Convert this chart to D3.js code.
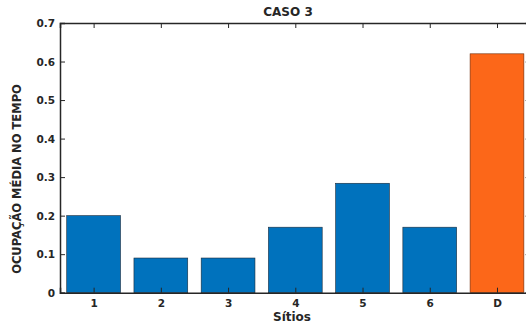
<!DOCTYPE html>
<html>
<head>
<meta charset="utf-8">
<script src="https://cdn.jsdelivr.net/npm/d3@7"></script>
<style>
  html, body { margin: 0; padding: 0; background: #fff; }
  svg { display: block; }
  text { font-family: "DejaVu Sans", sans-serif; font-weight: bold; fill: #262626; }
</style>
</head>
<body>
<svg id="chart" width="526" height="327"></svg>
<script>
// Mean occupancy per site
const sites = ["1", "2", "3", "4", "5", "6", "D"];
const occupancy = [0.2, 0.09, 0.09, 0.17, 0.284, 0.17, 0.62];
const barColors = ["#0072BD", "#0072BD", "#0072BD", "#0072BD", "#0072BD", "#0072BD", "#FC6719"];
const yTicks = [0, 0.1, 0.2, 0.3, 0.4, 0.5, 0.6, 0.7];

const svg = d3.select("#chart");
const plotL = 60, plotT = 23, plotB = 292.7, plotR = 530.6;

const x = d3.scaleLinear().domain([0.5, sites.length + 0.5]).range([plotL, plotR]);
const y = d3.scaleLinear().domain([0, 0.7]).range([plotB, plotT]);
const barW = (x(1) - x(0)) * 0.8;

// bars
svg.append("g").selectAll("rect")
  .data(occupancy)
  .join("rect")
  .attr("x", (d, i) => x(i + 1) - barW / 2)
  .attr("width", barW)
  .attr("y", d => y(d))
  .attr("height", d => y(0) - y(d))
  .attr("fill", (d, i) => barColors[i])
  .attr("stroke", (d, i) => i === sites.length - 1 ? "#6b2a08" : "#1a2a3a")
  .attr("stroke-width", 0.6);

// left axis (ticks pointing inward)
const yAxis = d3.axisLeft(y).tickValues(yTicks).tickSize(-5).tickPadding(5)
  .tickFormat(d => d === 0 ? "0" : d3.format(".1f")(d));
const gy = svg.append("g").attr("transform", `translate(${plotL},0)`).call(yAxis);
gy.select(".domain").attr("stroke", "#262626").attr("stroke-width", 1.5);
gy.selectAll(".tick line").attr("stroke", "#262626");
gy.selectAll(".tick text").style("font-size", "10.5px").attr("dy", "0.35em");

// right axis ticks
const gyr = svg.append("g").attr("transform", `translate(${plotR},0)`)
  .call(d3.axisRight(y).tickValues(yTicks).tickSize(-5).tickFormat(""));
gyr.select(".domain").attr("stroke", "#262626").attr("stroke-width", 1.5);
gyr.selectAll(".tick line").attr("stroke", "#262626");

// bottom axis
const xAxis = d3.axisBottom(x).tickValues(d3.range(1, sites.length + 1)).tickSize(-5).tickPadding(7)
  .tickFormat(d => sites[d - 1]);
const gx = svg.append("g").attr("transform", `translate(0,${plotB})`).call(xAxis);
gx.select(".domain").attr("stroke", "#262626").attr("stroke-width", 1.5);
gx.selectAll(".tick line").attr("stroke", "#262626");
gx.selectAll(".tick text").style("font-size", "10.5px");

// top axis ticks
const gxt = svg.append("g").attr("transform", `translate(0,${plotT})`)
  .call(d3.axisTop(x).tickValues(d3.range(1, sites.length + 1)).tickSize(-5).tickFormat(""));
gxt.select(".domain").attr("stroke", "#262626").attr("stroke-width", 1.5);
gxt.selectAll(".tick line").attr("stroke", "#262626");

// title and axis labels
svg.append("text").attr("x", 288).attr("y", 16).attr("text-anchor", "middle")
  .style("font-size", "12px").text("CASO 3");
svg.append("text").attr("x", 292).attr("y", 321).attr("text-anchor", "middle")
  .style("font-size", "12px").text("Sítios");
svg.append("text").attr("transform", `translate(21,179) rotate(-90)`)
  .attr("text-anchor", "middle").style("font-size", "11.5px").text("OCUPAÇÃO MÉDIA NO TEMPO");
</script>
</body>
</html>
